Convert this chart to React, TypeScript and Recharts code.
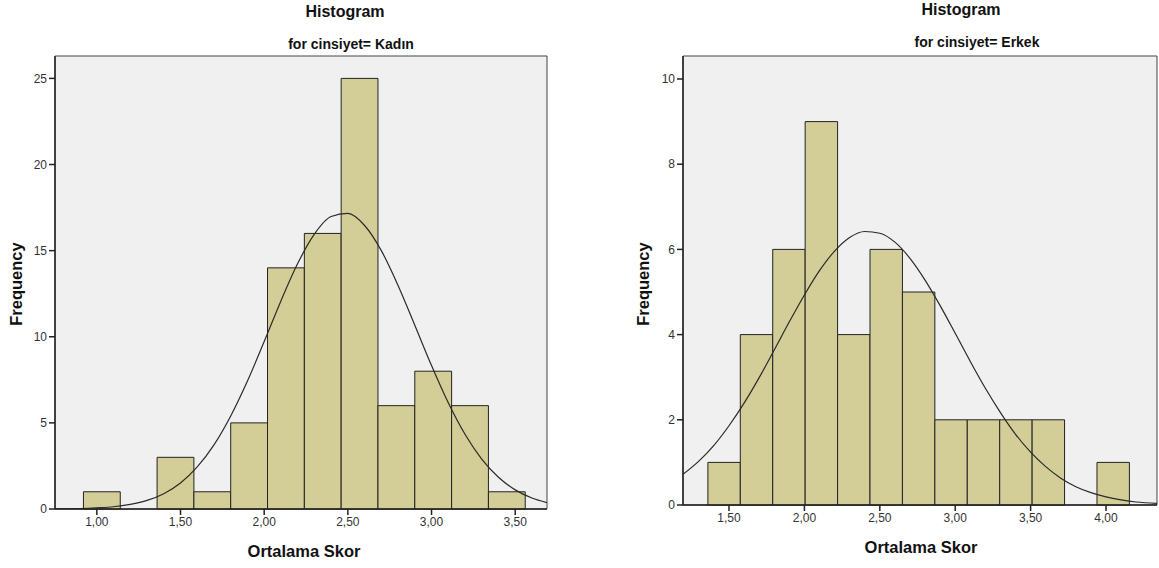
import React from "react";
import {
  ComposedChart,
  Line,
  XAxis,
  YAxis,
  CartesianGrid,
  ReferenceArea,
} from "recharts";

// ---- Kadın (female) ----
const kadinBinStarts = [0.92, 1.14, 1.36, 1.58, 1.8, 2.02, 2.24, 2.46, 2.68, 2.9, 3.12, 3.34];
const kadinCounts = [1, 0, 3, 1, 5, 14, 16, 25, 6, 8, 6, 1];
const kadinBinWidth = 0.22;
const kadinXTicks = [1, 1.5, 2, 2.5, 3, 3.5];
const kadinYTicks = [0, 5, 10, 15, 20, 25];
const kadinCurveX = [0.75, 0.9, 1.0, 1.1, 1.2, 1.3, 1.4, 1.5, 1.6, 1.7, 1.8, 1.9, 2.0, 2.1, 2.2, 2.3, 2.4, 2.5, 2.6, 2.7, 2.8, 2.9, 3.0, 3.1, 3.2, 3.3, 3.4, 3.5, 3.6, 3.69];
const kadinCurveY = [0.01, 0.03, 0.07, 0.13, 0.27, 0.5, 0.89, 1.51, 2.44, 3.72, 5.4, 7.43, 9.72, 12.08, 14.25, 15.96, 16.98, 17.16, 16.46, 15.0, 12.98, 10.67, 8.33, 6.17, 4.34, 2.9, 1.84, 1.11, 0.64, 0.37];

// ---- Erkek (male) ----
const erkekBinStarts = [1.36, 1.575, 1.79, 2.005, 2.22, 2.435, 2.65, 2.865, 3.08, 3.295, 3.51, 3.725, 3.94];
const erkekCounts = [1, 4, 6, 9, 4, 6, 5, 2, 2, 2, 2, 0, 1];
const erkekBinWidth = 0.215;
const erkekXTicks = [1.5, 2, 2.5, 3, 3.5, 4];
const erkekYTicks = [0, 2, 4, 6, 8, 10];
const erkekCurveX = [1.195, 1.3, 1.4, 1.5, 1.6, 1.7, 1.8, 1.9, 2.0, 2.1, 2.2, 2.3, 2.4, 2.5, 2.6, 2.7, 2.8, 2.9, 3.0, 3.1, 3.2, 3.3, 3.4, 3.5, 3.6, 3.7, 3.8, 3.9, 4.0, 4.1, 4.2, 4.338];
const erkekCurveY = [0.72, 1.03, 1.4, 1.86, 2.39, 2.99, 3.64, 4.3, 4.93, 5.5, 5.96, 6.28, 6.42, 6.38, 6.17, 5.79, 5.28, 4.68, 4.03, 3.37, 2.74, 2.17, 1.66, 1.24, 0.9, 0.63, 0.43, 0.29, 0.19, 0.12, 0.07, 0.04];

const FONT = "'Liberation Sans', Arial, sans-serif";
const BAR_FILL = "#d3ce97";
const PLOT_BG = "#f0f0f0";
const INK = "#222";

const fmt = (v: number) => v.toFixed(2).replace(".", ",");

interface HistProps {
  binStarts: number[];
  counts: number[];
  binWidth: number;
  xTicks: number[];
  yTicks: number[];
  xDomain: [number, number];
  yMax: number;
  curveX: number[];
  curveY: number[];
  width: number;
  margin: { top: number; right: number; bottom: number; left: number };
}

function Hist(p: HistProps) {
  const curve = p.curveX.map((x, i) => ({ x, y: p.curveY[i] }));
  return (
    <ComposedChart width={p.width} height={568} margin={p.margin}>
      <CartesianGrid horizontal={false} vertical={false} fill={PLOT_BG} />
      <XAxis
        type="number"
        dataKey="x"
        domain={p.xDomain}
        ticks={p.xTicks}
        tickFormatter={fmt}
        allowDataOverflow
        height={30}
        tick={{ fontSize: 12, fill: "#333", fontFamily: FONT }}
        tickSize={6}
        stroke={INK}
        strokeWidth={1.5}
      />
      <YAxis
        type="number"
        domain={[0, p.yMax]}
        ticks={p.yTicks}
        allowDataOverflow
        width={40}
        tick={{ fontSize: 12, fill: "#333", fontFamily: FONT }}
        tickSize={6}
        stroke={INK}
        strokeWidth={1.5}
      />
      <ReferenceArea
        x1={p.xDomain[0]}
        x2={p.xDomain[1]}
        y1={0}
        y2={p.yMax}
        fill="none"
        stroke="#444"
        strokeWidth={1}
      />
      {p.binStarts.map((s, i) =>
        p.counts[i] > 0 ? (
          <ReferenceArea
            key={i}
            x1={s}
            x2={s + p.binWidth}
            y1={0}
            y2={p.counts[i]}
            fill={BAR_FILL}
            fillOpacity={1}
            stroke={INK}
            strokeOpacity={1}
            strokeWidth={1}
          />
        ) : null
      )}
      <Line
        data={curve}
        dataKey="y"
        type="monotone"
        stroke="#2a2a2a"
        strokeWidth={1.2}
        dot={false}
        isAnimationActive={false}
      />
    </ComposedChart>
  );
}

function T({ x, y, size, children, rotate }: { x: number; y: number; size: number; children: React.ReactNode; rotate?: boolean }) {
  return (
    <div
      style={{
        position: "absolute",
        fontFamily: FONT,
        fontWeight: "bold",
        color: "#111",
        whiteSpace: "nowrap",
        left: x,
        top: y,
        fontSize: size,
        transform: rotate ? "translate(-50%, -50%) rotate(-90deg)" : "translate(-50%, -50%)",
      }}
    >
      {children}
    </div>
  );
}

export default function App() {
  return (
    <div style={{ position: "absolute", left: 0, top: 0, width: 1159, height: 568, background: "#fff", overflow: "hidden" }}>
      <div style={{ position: "absolute", left: 0, top: 0 }}>
        <Hist
          binStarts={kadinBinStarts}
          counts={kadinCounts}
          binWidth={kadinBinWidth}
          xTicks={kadinXTicks}
          yTicks={kadinYTicks}
          xDomain={[0.75, 3.69]}
          yMax={26.3}
          curveX={kadinCurveX}
          curveY={kadinCurveY}
          width={580}
          margin={{ top: 56, right: 33, bottom: 29, left: 15 }}
        />
      </div>
      <div style={{ position: "absolute", left: 580, top: 0 }}>
        <Hist
          binStarts={erkekBinStarts}
          counts={erkekCounts}
          binWidth={erkekBinWidth}
          xTicks={erkekXTicks}
          yTicks={erkekYTicks}
          xDomain={[1.195, 4.338]}
          yMax={10.54}
          curveX={erkekCurveX}
          curveY={erkekCurveY}
          width={579}
          margin={{ top: 56, right: 2, bottom: 33, left: 63 }}
        />
      </div>
      <T x={345} y={12} size={16}>Histogram</T>
      <T x={351} y={44} size={14}>for cinsiyet= Kadın</T>
      <T x={304} y={551} size={16.5}>Ortalama Skor</T>
      <T x={16} y={284} size={16.5} rotate>Frequency</T>
      <T x={961} y={10} size={16}>Histogram</T>
      <T x={977} y={42} size={14}>for cinsiyet= Erkek</T>
      <T x={921} y={547} size={16.5}>Ortalama Skor</T>
      <T x={643} y={284} size={16.5} rotate>Frequency</T>
    </div>
  );
}
